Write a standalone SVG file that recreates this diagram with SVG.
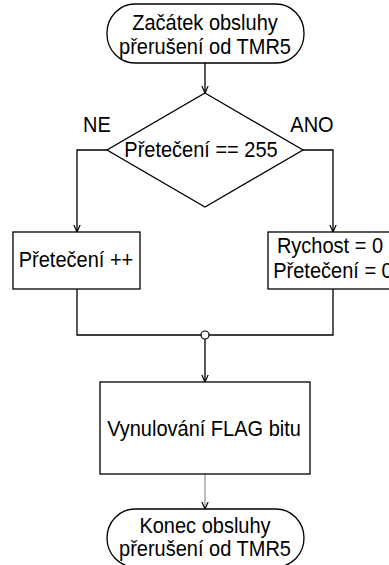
<svg xmlns="http://www.w3.org/2000/svg" width="389" height="565" viewBox="0 0 389 565">
<defs>
<style>
.s{fill:#fff;stroke:#000;stroke-width:1.3}
.c{fill:none;stroke:#000;stroke-width:1.3}
text{font-family:"Liberation Sans",Arial,sans-serif;font-size:20px;fill:#000;text-anchor:middle}
</style>
<marker id="a" viewBox="0 0 10 10" refX="9" refY="5" markerWidth="8" markerHeight="8" orient="auto" markerUnits="userSpaceOnUse">
<path d="M0,1 L9,5 L0,9" fill="none" stroke="#000" stroke-width="1.5"/>
</marker>
</defs>
<g id="connectors">
<path class="c" d="M205,63 V93" marker-end="url(#a)"/>
<path class="c" d="M107,150 H77 V232" marker-end="url(#a)"/>
<path class="c" d="M303,150 H333 V232" marker-end="url(#a)"/>
<path class="c" d="M77,289 V335 H333 V289"/>
<path class="c" d="M205,339 V382" marker-end="url(#a)"/>
<path class="c" d="M205,474 V509" marker-end="url(#a)" style="stroke:#999"/>
<circle cx="205" cy="335" r="4" fill="#fff" stroke="#000" stroke-width="1.2"/>
</g>
<g id="start">
<rect class="s" x="107" y="4" width="197" height="59" rx="28" ry="29"/>
<text transform="translate(205,30) scale(1,1.1)">Začátek obsluhy</text>
<text transform="translate(205,54) scale(1,1.1)">přerušení od TMR5</text>
</g>
<g id="decision">
<polygon class="s" points="205,93 303,150 205,207 107,150"/>
<text transform="translate(201,157) scale(1,1.1)">Přetečení == 255</text>
</g>
<text transform="translate(97,132) scale(1,1.1)">NE</text>
<text transform="translate(312,132) scale(1,1.1)">ANO</text>
<g id="inc">
<rect class="s" x="13" y="232" width="127" height="57"/>
<text transform="translate(76,267) scale(1,1.1)">Přetečení ++</text>
</g>
<g id="reset">
<rect class="s" x="268" y="232" width="130" height="57"/>
<text transform="translate(330,253) scale(1,1.1)">Rychost = 0</text>
<text transform="translate(333,278) scale(1,1.1)">Přetečení = 0</text>
</g>
<g id="flag">
<rect class="s" x="100" y="382" width="210" height="92"/>
<text transform="translate(204,436) scale(1,1.1)">Vynulování FLAG bitu</text>
</g>
<g id="end">
<rect class="s" x="107" y="509" width="197" height="58" rx="28" ry="29"/>
<text transform="translate(205,533) scale(1,1.1)">Konec obsluhy</text>
<text transform="translate(205,556) scale(1,1.1)">přerušení od TMR5</text>
</g>
</svg>
